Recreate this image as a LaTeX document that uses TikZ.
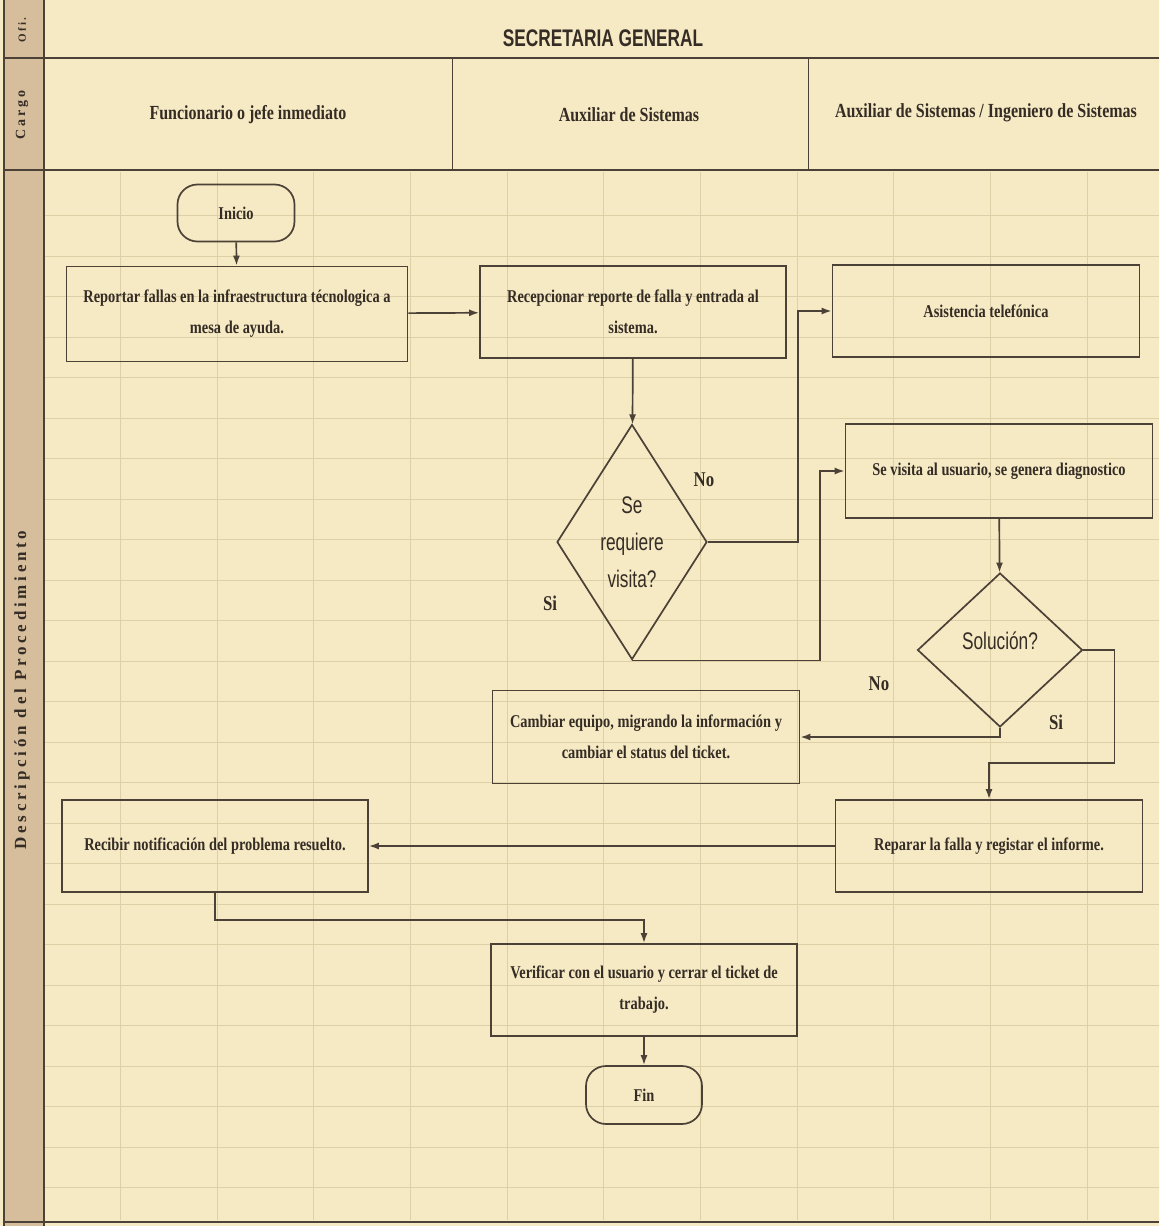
\documentclass[tikz,border=0pt]{standalone}
\usepackage{fontspec}
\usepackage{tikz}
\usetikzlibrary{shapes.geometric,arrows.meta}
\setmainfont{Liberation Serif}[FakeStretch=0.8]
\newfontfamily\diasans{Liberation Sans}[FakeStretch=0.72]
\newfontfamily\headsans{Liberation Sans}[FakeStretch=0.72]
\newfontfamily\sidefont{Liberation Serif}[LetterSpace=22]
\definecolor{papel}{HTML}{F6EAC4}
\definecolor{franja}{HTML}{D6BE9C}
\definecolor{rejilla}{HTML}{DDCFA6}
\definecolor{linea}{HTML}{4B4136}
\definecolor{tinta}{HTML}{352D25}

\begin{document}
\begin{tikzpicture}[x=1pt,y=-1pt,
    every node/.style={text=tinta},
    caja/.style={draw=linea,line width=1.7pt,minimum width=306pt,minimum height=92pt,
      align=center,inner sep=2pt,font=\fontsize{18}{31}\selectfont\bfseries},
    terminal/.style={draw=linea,line width=1.7pt,rounded corners=20pt,minimum width=117pt,
      minimum height=57pt,font=\fontsize{18}{20}\selectfont\bfseries},
    decision/.style={draw=linea,line width=1.7pt,diamond,inner sep=-8pt,align=center,
      font=\diasans\fontsize{24}{37}\selectfont},
    flecha/.style={draw=linea,line width=1.7pt,-{Latex[length=10pt,width=7pt]}},
    etiqueta/.style={font=\fontsize{21}{22}\selectfont\bfseries},
    titulo/.style={font=\fontsize{20}{22}\selectfont\bfseries},
    lado/.style={rotate=90,font=\sidefont\fontsize{17}{18}\selectfont\bfseries}]
  % fondo y rejilla del papel
  \fill[papel] (0,0) rectangle (1159,1226);
  \useasboundingbox (0,0) rectangle (1159,1226);
  \fill[franja] (4,0) rectangle (44,1226);
  \foreach \yy in {215.5,256,...,1200}
    \draw[rejilla,line width=0.8pt] (44,\yy) -- (1159,\yy);
  \foreach \xx in {120,217,313,410,507,603,700,797,893,990,1087}
    \draw[rejilla,line width=0.5pt] (\xx,172) -- (\xx,1220);
  % marco
  \draw[linea,line width=1.8pt] (4,0) -- (4,1226);
  \draw[linea,line width=1.8pt] (44,0) -- (44,1226);
  \draw[linea,line width=2pt] (4,58) -- (1159,58);
  \draw[linea,line width=2pt] (4,170) -- (1159,170);
  \draw[linea,line width=2pt] (4,1222) -- (1159,1222);
  \draw[linea,line width=1pt] (452,58) -- (452,170);
  \draw[linea,line width=1pt] (808,58) -- (808,170);
  % encabezados
  \node[lado,font=\sidefont\fontsize{11}{12}\selectfont\bfseries] (ofi) at (22,30) {Ofi.};
  \node[lado,font=\sidefont\fontsize{14}{14}\selectfont\bfseries] (cargo) at (22,115) {Cargo};
  \node[lado] (desc) at (22,690) {Descripción del Procedimiento};
  \node[font=\headsans\fontsize{24}{26}\selectfont\bfseries] (secre) at (603,38) {SECRETARIA GENERAL};
  \node[titulo] (col1) at (248,115) {Funcionario o jefe inmediato};
  \node[titulo] (col2) at (629,115) {Auxiliar de Sistemas};
  \node[titulo] (col3) at (986,113) {Auxiliar de Sistemas / Ingeniero de Sistemas};
  % nodos del procedimiento
  \node[terminal] (inicio) at (236,213) {Inicio};
  \node[caja,minimum width=341pt,minimum height=95pt] (reportar) at (237,314)
    {Reportar fallas en la infraestructura técnologica a\\mesa de ayuda.};
  \node[caja] (recep) at (633,312) {Recepcionar reporte de falla y entrada al\\sistema.};
  \node[caja,minimum width=307pt] (asist) at (986,311) {Asistencia telefónica};
  \node[decision,minimum width=150pt,minimum height=235pt] (visita) at (632,542)
    {Se\\requiere\\visita?};
  \node[caja,minimum width=307pt,minimum height=94pt] (sevisita) at (999,471)
    {Se visita al usuario, se genera diagnostico};
  \node[decision,minimum width=165pt,minimum height=154pt] (sol) at (1000,650)
    {\raisebox{18pt}{Solución?}};
  \node[caja,minimum width=307pt,minimum height=93pt] (cambiar) at (646,737)
    {Cambiar equipo, migrando la información y\\cambiar el status del ticket.};
  \node[caja,minimum width=307pt] (reparar) at (989,846) {Reparar la falla y registar el informe.};
  \node[caja,minimum width=306pt] (recibir) at (215,846) {Recibir notificación del problema resuelto.};
  \node[caja,minimum width=306pt] (verif) at (644,990)
    {Verificar con el usuario y cerrar el ticket de\\trabajo.};
  \node[terminal,minimum width=116pt,minimum height=58pt] (fin) at (644,1095) {Fin};
  % conectores
  \draw[flecha] (inicio) -- (reportar);
  \draw[flecha] (reportar) -- (recep);
  \draw[flecha] (recep) -- (visita);
  \draw[flecha] (visita.east) -- ([xshift=90pt]visita.east) |- (asist.west);
  \draw[flecha] (visita.south) -- ([xshift=188pt]visita.south) |- (sevisita.west);
  \draw[flecha] (sevisita) -- (sol);
  \draw[flecha] (sol.south) |- (cambiar.east);
  \draw[flecha] (sol.east) -- ++(31,0) -- ++(0,113) -| (reparar.north);
  \draw[flecha] (reparar) -- (recibir);
  \draw[flecha] (recibir.south) -- ++(0,27) -| (verif.north);
  \draw[flecha] (verif) -- (fin);
  % etiquetas
  \node[etiqueta] (no1) at (704,480) {No};
  \node[etiqueta] (si1) at (550,603) {Si};
  \node[etiqueta] (no2) at (879,684) {No};
  \node[etiqueta] (si2) at (1056,722) {Si};
\end{tikzpicture}
\end{document}
